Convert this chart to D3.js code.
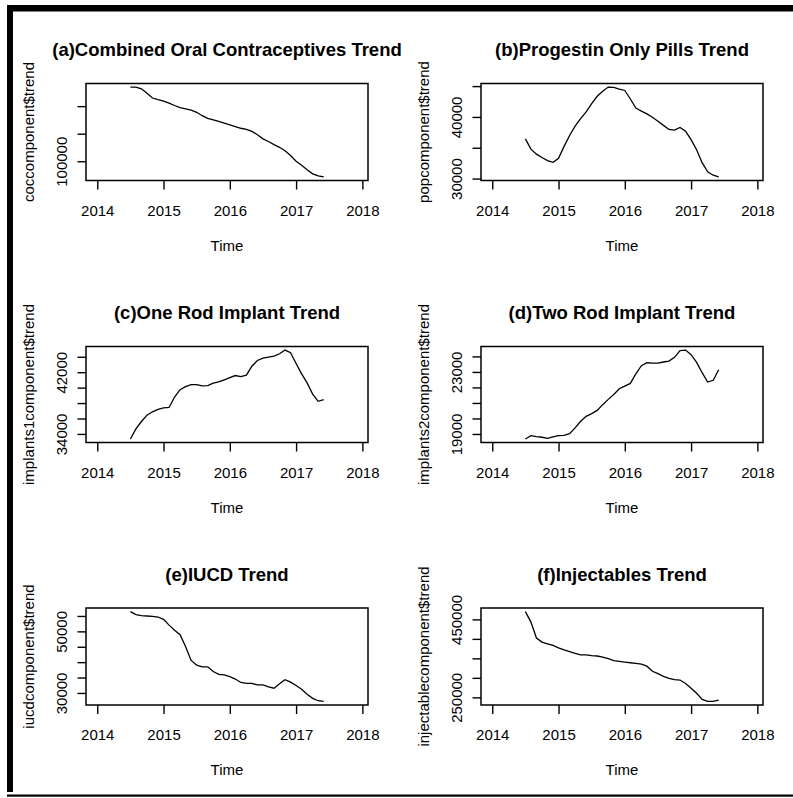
<!DOCTYPE html>
<html>
<head>
<meta charset="utf-8">
<script src="https://cdn.jsdelivr.net/npm/d3@7"></script>
<style>
body { margin: 0; background: #fff; }
svg text { font-family: "Liberation Sans", Arial, sans-serif; fill: #000; }
</style>
</head>
<body>
<script>
const w = 793;
const h = 798;

// monthly trend components, Jul 2014 .. Jun 2017
const startYear = 2014.5;
const xTicks = [2014, 2015, 2016, 2017, 2018];
const xLimits = [2013.83, 2018.085];

const cocTrend = [234600, 234500, 231500, 223500, 214800, 211700, 209300, 205600, 201200, 197500,
  195100, 192600, 188900, 182700, 177800, 175300, 172200, 169100, 166000, 163000,
  159900, 158000, 154300, 148200, 140700, 135800, 130300, 125300, 119100, 110500,
  100000, 92600, 84600, 77200, 73500, 71600];
const popTrend = [36430, 34780, 33960, 33410, 32910, 32640, 33300, 35220, 36980, 38520,
  39730, 40830, 42140, 43350, 44180, 44840, 44780, 44510, 44290, 42910,
  41430, 40940, 40500, 39950, 39290, 38630, 37970, 37860, 38300, 37690,
  36320, 34670, 32580, 31100, 30550, 30270];
const implant1Trend = [33350, 34650, 35610, 36430, 36870, 37170, 37390, 37430, 38780, 39740,
  40130, 40390, 40390, 40220, 40260, 40570, 40740, 41000, 41300, 41570,
  41430, 41610, 42780, 43520, 43830, 43960, 44090, 44390, 44870, 44520,
  43130, 41780, 40610, 39170, 38220, 38430];
const implant2Trend = [18680, 18890, 18830, 18790, 18720, 18810, 18890, 18910, 19020, 19390,
  19820, 20140, 20310, 20520, 20890, 21230, 21550, 21920, 22090, 22260,
  22880, 23400, 23590, 23570, 23570, 23640, 23700, 23940, 24370, 24410,
  24110, 23610, 22950, 22350, 22460, 23140];
const iucdTrend = [56420, 55430, 55100, 54990, 54880, 54660, 53890, 52020, 50370, 48940,
  44970, 40570, 39030, 38480, 38480, 36940, 36060, 35840, 35290, 34510,
  33410, 33080, 33080, 32640, 32640, 31980, 31540, 32970, 34290, 33520,
  32420, 31210, 29560, 28240, 27470, 27250];
const injTrend = [470000, 443050, 402180, 391750, 387400, 383050, 376960, 371740, 367400, 363050,
  358700, 358700, 356960, 356090, 353480, 349130, 343920, 342180, 340440, 338700,
  336960, 335220, 330000, 316960, 310870, 303920, 298700, 295220, 294350, 285650,
  273480, 260440, 244780, 239570, 239570, 243040];

const titles = [
  "(a)Combined Oral Contraceptives Trend",
  "(b)Progestin Only Pills Trend",
  "(c)One Rod Implant Trend",
  "(d)Two Rod Implant Trend",
  "(e)IUCD Trend",
  "(f)Injectables Trend"
];
const yLabels = [
  "coccomponent$trend",
  "popcomponent$trend",
  "implants1component$trend",
  "implants2component$trend",
  "iucdcomponent$trend",
  "injectablecomponent$trend"
];
const yTicks = [
  [100000, 150000, 200000],
  [30000, 35000, 40000, 45000],
  [34000, 36000, 38000, 40000, 42000, 44000],
  [19000, 20000, 21000, 22000, 23000, 24000],
  [30000, 35000, 40000, 45000, 50000, 55000],
  [250000, 300000, 350000, 400000, 450000]
];
const yTickLabels = [
  ["100000", "", ""],
  ["30000", "", "40000", ""],
  ["34000", "", "", "", "42000", ""],
  ["19000", "", "", "", "23000", ""],
  ["30000", "", "", "", "50000", ""],
  ["250000", "", "", "", "450000"]
];
const series = [cocTrend, popTrend, implant1Trend, implant2Trend, iucdTrend, injTrend];

// panel geometry
const colLeft = [86, 481];
const rowTop = [83.5, 346.5, 608];
const rowH = [97, 96, 97];
const boxW = 282;
const fontSize = 15;

const svg = d3.select("body")
  .append("svg")
  .attr("width", w)
  .attr("height", h);

// outer frame
svg.append("rect").attr("x", 7).attr("y", 5).attr("width", w - 7).attr("height", 6.5).attr("fill", "#000");
svg.append("rect").attr("x", 7).attr("y", 5).attr("width", 6).attr("height", 792 - 5).attr("fill", "#000");
svg.append("rect").attr("x", 7).attr("y", 794.5).attr("width", w - 7).attr("height", 2.2).attr("fill", "#000");

series.forEach((values, i) => {
  const left = colLeft[i % 2];
  const top = rowTop[Math.floor(i / 2)];
  const bh = rowH[Math.floor(i / 2)];

  const data = values.map((v, k) => [startYear + k / 12, v]);

  const xScale = d3.scaleLinear()
    .domain(xLimits)
    .range([left, left + boxW]);

  // R style: pad the data range by 4%
  const ext = d3.extent(values);
  const pad = (ext[1] - ext[0]) * 0.04;
  const yScale = d3.scaleLinear()
    .domain([ext[0] - pad, ext[1] + pad])
    .range([top + bh, top]);

  const g = svg.append("g");

  const xAxis = d3.axisBottom(xScale)
    .tickValues(xTicks)
    .tickFormat(d3.format("d"))
    .tickSize(9);

  const gx = g.append("g")
    .attr("transform", "translate(0," + (top + bh) + ")")
    .call(xAxis);
  gx.select(".domain").remove();
  gx.selectAll("line").attr("stroke", "#000").attr("stroke-width", 1.4);
  gx.selectAll("text")
    .attr("y", null)
    .attr("dy", null)
    .attr("dominant-baseline", "central")
    .attr("transform", "translate(0,29.5)")
    .style("font-size", fontSize + "px")
    .style("font-family", null);

  const yAxis = d3.axisLeft(yScale)
    .tickValues(yTicks[i])
    .tickFormat((d, j) => yTickLabels[i][j])
    .tickSize(8.5);

  const gy = g.append("g")
    .attr("transform", "translate(" + left + ",0)")
    .call(yAxis);
  gy.select(".domain").remove();
  gy.selectAll("line").attr("stroke", "#000").attr("stroke-width", 1.4);
  gy.selectAll("text")
    .attr("x", null)
    .attr("dy", null)
    .attr("text-anchor", "middle")
    .attr("dominant-baseline", "central")
    .attr("transform", "translate(-25,0) rotate(-90)")
    .style("font-size", fontSize + "px")
    .style("font-family", null);

  const line = d3.line()
    .x((d) => xScale(d[0]))
    .y((d) => yScale(d[1]));

  g.append("path")
    .datum(data)
    .attr("d", line)
    .attr("fill", "none")
    .attr("stroke", "#000")
    .attr("stroke-width", 1.3);

  g.append("rect")
    .attr("x", left)
    .attr("y", top)
    .attr("width", boxW)
    .attr("height", bh)
    .attr("fill", "none")
    .attr("stroke", "#000")
    .attr("stroke-width", 1.5);

  g.append("text")
    .attr("x", left + boxW / 2)
    .attr("y", top - 34)
    .attr("text-anchor", "middle")
    .attr("dominant-baseline", "central")
    .style("font-size", "18.5px")
    .style("font-weight", "bold")
    .text(titles[i]);

  g.append("text")
    .attr("x", left + boxW / 2)
    .attr("y", top + bh + 64.5)
    .attr("text-anchor", "middle")
    .attr("dominant-baseline", "central")
    .style("font-size", fontSize + "px")
    .text("Time");

  g.append("text")
    .attr("transform", "translate(" + (left - 58) + "," + (top + bh / 2) + ") rotate(-90)")
    .attr("text-anchor", "middle")
    .attr("dominant-baseline", "central")
    .style("font-size", fontSize + "px")
    .text(yLabels[i]);
});
</script>
</body>
</html>
